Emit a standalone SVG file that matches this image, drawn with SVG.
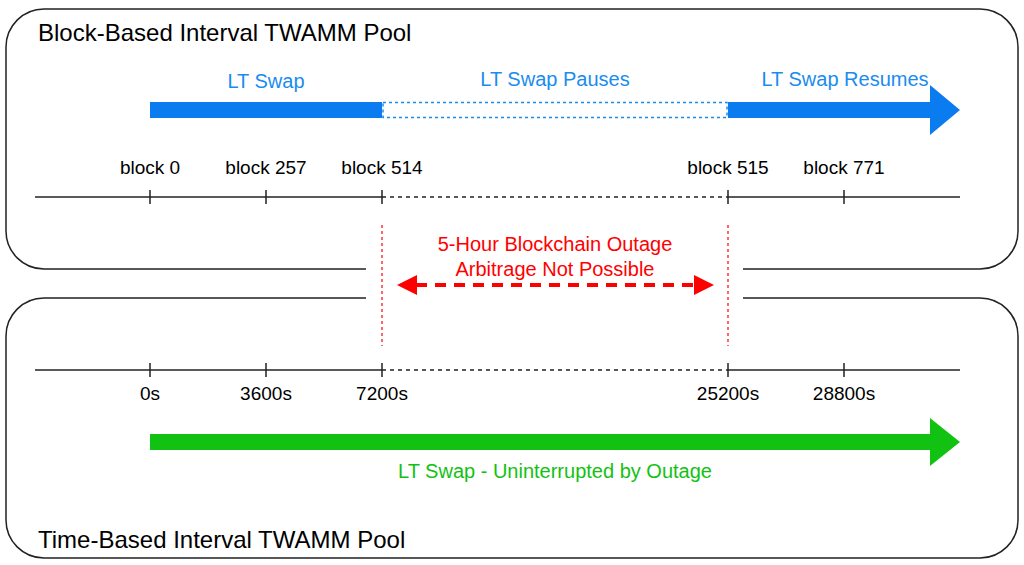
<svg xmlns="http://www.w3.org/2000/svg" width="1024" height="565" viewBox="0 0 1024 565">
<style>
text{font-family:"Liberation Sans",Arial,sans-serif;font-size:20px}
.frame{fill:none;stroke:#222;stroke-width:1.5}
.axis{stroke:#222;stroke-width:1.5}
.tl{text-anchor:middle;fill:#000;font-size:19px}
.title{font-size:24px;fill:#000}
</style>
<rect width="1024" height="565" fill="#fff"/>
<g id="block-pool">
<path class="frame" d="M366,269 H44 A38,38 0 0 1 6,231 V47 A38,38 0 0 1 44,9 H980 A38,38 0 0 1 1018,47 V231 A38,38 0 0 1 980,269 H743"/>
<text class="title" x="38" y="41">Block-Based Interval TWAMM Pool</text>
</g>
<g id="time-pool">
<path class="frame" d="M366,298 H44 A38,38 0 0 0 6,336 V520 A38,38 0 0 0 44,558 H980 A38,38 0 0 0 1018,520 V336 A38,38 0 0 0 980,298 H743"/>
<text class="title" x="38" y="548">Time-Based Interval TWAMM Pool</text>
</g>
<g id="block-axis">
<line class="axis" x1="35" y1="197" x2="382" y2="197"/>
<line class="axis" x1="382" y1="197" x2="728" y2="197" stroke-dasharray="4,4"/>
<line class="axis" x1="728" y1="197" x2="960" y2="197"/>
<g class="axis"><line x1="150" y1="190" x2="150" y2="204"/><line x1="266" y1="190" x2="266" y2="204"/><line x1="382" y1="190" x2="382" y2="204"/><line x1="728" y1="190" x2="728" y2="204"/><line x1="844" y1="190" x2="844" y2="204"/></g>
<text class="tl" x="150" y="174">block 0</text>
<text class="tl" x="266" y="174">block 257</text>
<text class="tl" x="382" y="174">block 514</text>
<text class="tl" x="728" y="174">block 515</text>
<text class="tl" x="844" y="174">block 771</text>
</g>
<g id="time-axis">
<line class="axis" x1="35" y1="370" x2="382" y2="370"/>
<line class="axis" x1="382" y1="370" x2="728" y2="370" stroke-dasharray="4,4"/>
<line class="axis" x1="728" y1="370" x2="960" y2="370"/>
<g class="axis"><line x1="150" y1="363" x2="150" y2="377"/><line x1="266" y1="363" x2="266" y2="377"/><line x1="382" y1="363" x2="382" y2="377"/><line x1="728" y1="363" x2="728" y2="377"/><line x1="844" y1="363" x2="844" y2="377"/></g>
<text class="tl" x="150" y="400">0s</text>
<text class="tl" x="266" y="400">3600s</text>
<text class="tl" x="382" y="400">7200s</text>
<text class="tl" x="728" y="400">25200s</text>
<text class="tl" x="844" y="400">28800s</text>
</g>
<g id="connectors">
<rect x="150" y="102" width="232" height="16" fill="#0a7cf0"/>
<rect x="383" y="102.5" width="344" height="15" fill="none" stroke="#1a8cf0" stroke-width="1.5" stroke-dasharray="3,3"/>
<path d="M728,102 H930 V85 L960,110 L930,135 V118 H728 Z" fill="#0a7cf0"/>
<path d="M150,434 H930 V418 L960,442 L930,466 V450 H150 Z" fill="#12c212"/>
<line x1="382" y1="225" x2="382" y2="346" stroke="#f00" stroke-width="1.2" stroke-dasharray="3,3"/>
<line x1="728" y1="225" x2="728" y2="346" stroke="#f00" stroke-width="1.2" stroke-dasharray="3,3"/>
<line x1="416" y1="285" x2="696" y2="285" stroke="#f00" stroke-width="4" stroke-dasharray="11,8"/>
<path d="M397,285 L417,275 V295 Z M714,285 L694,275 V295 Z" fill="#f00"/>
</g>
<g id="labels">
<text x="266" y="88" text-anchor="middle" fill="#1a8cf0">LT Swap</text>
<text x="555" y="86" text-anchor="middle" fill="#1a8cf0">LT Swap Pauses</text>
<text x="845" y="86" text-anchor="middle" fill="#1a8cf0">LT Swap Resumes</text>
<text x="555" y="251" text-anchor="middle" fill="#f00">5-Hour Blockchain Outage</text>
<text x="555" y="276" text-anchor="middle" fill="#f00">Arbitrage Not Possible</text>
<text x="555" y="478" text-anchor="middle" fill="#12c212">LT Swap - Uninterrupted by Outage</text>
</g>
</svg>
